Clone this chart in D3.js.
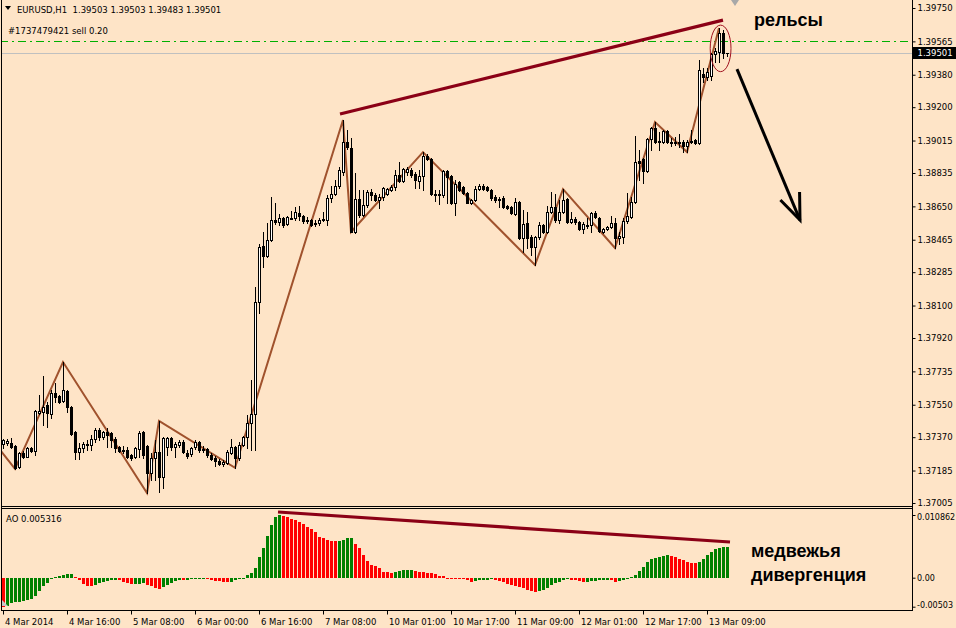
<!DOCTYPE html>
<html><head><meta charset="utf-8">
<script src="https://cdn.jsdelivr.net/npm/d3@7"></script>
<style>
html,body{margin:0;padding:0;background:#FEE4C7;}
svg{display:block;}
</style></head><body>
<svg id="c" width="956" height="628"></svg>
<script>
const symbolTitle = "EURUSD,H1";
const headerOHLC = ["1.39503","1.39503","1.39483","1.39501"];

const open = [
1.37332,1.37337,1.37337,1.37321,1.37205,1.37282,1.37260,1.37310,1.37293,1.37504,
1.37510,1.37548,1.37499,1.37615,1.37599,1.37570,1.37626,1.37537,1.37399,1.37288,
1.37310,1.37332,1.37326,1.37360,1.37410,1.37371,1.37399,1.37393,1.37360,1.37315,
1.37299,1.37299,1.37271,1.37260,1.37304,1.37399,1.37321,1.37171,1.37255,1.37288,
1.37149,1.37315,1.37366,1.37315,1.37326,1.37343,1.37282,1.37277,1.37315,1.37343,
1.37304,1.37304,1.37271,1.37255,1.37238,1.37221,1.37227,1.37282,1.37315,1.37255,
1.37326,1.37371,1.37448,1.37499,1.38119,1.38430,1.38375,1.38463,1.38574,1.38563,
1.38585,1.38552,1.38585,1.38585,1.38613,1.38596,1.38574,1.38574,1.38557,1.38557,
1.38574,1.38574,1.38696,1.38718,1.38763,1.38840,1.39007,1.38973,1.38508,1.38690,
1.38602,1.38657,1.38729,1.38712,1.38685,1.38701,1.38718,1.38740,1.38757,1.38823,
1.38790,1.38840,1.38851,1.38829,1.38790,1.38818,1.38929,1.38912,1.38718,1.38712,
1.38712,1.38845,1.38818,1.38668,1.38785,1.38757,1.38724,1.38668,1.38685,1.38746,
1.38763,1.38757,1.38740,1.38701,1.38690,1.38696,1.38652,1.38646,1.38608,1.38674,
1.38475,1.38557,1.38480,1.38424,1.38480,1.38546,1.38508,1.38619,1.38646,1.38574,
1.38619,1.38690,1.38563,1.38580,1.38563,1.38524,1.38546,1.38546,1.38613,1.38585,
1.38508,1.38524,1.38535,1.38557,1.38475,1.38480,1.38568,1.38591,1.38674,1.38901,
1.38912,1.38845,1.39023,1.39084,1.39012,1.39007,1.39068,1.39007,1.39007,1.39007,
1.39007,1.38985,1.39007,1.39018,1.39002,1.39384,1.39367,1.39373,1.39495,1.39506,
1.39611,1.39503];
const high = [
1.37360,1.37360,1.37366,1.37326,1.37288,1.37293,1.37315,1.37315,1.37521,1.37604,
1.37709,1.37565,1.37632,1.37670,1.37604,1.37787,1.37632,1.37543,1.37404,1.37337,
1.37343,1.37354,1.37382,1.37421,1.37421,1.37404,1.37421,1.37399,1.37371,1.37321,
1.37321,1.37315,1.37277,1.37315,1.37404,1.37404,1.37326,1.37282,1.37354,1.37460,
1.37371,1.37371,1.37371,1.37343,1.37354,1.37354,1.37299,1.37315,1.37354,1.37349,
1.37321,1.37310,1.37282,1.37266,1.37249,1.37243,1.37299,1.37360,1.37321,1.37343,
1.37376,1.37493,1.37687,1.38203,1.38441,1.38508,1.38557,1.38701,1.38668,1.38608,
1.38591,1.38596,1.38624,1.38646,1.38652,1.38602,1.38591,1.38580,1.38574,1.38585,
1.38619,1.38712,1.38763,1.38796,1.38868,1.39129,1.39073,1.39029,1.38834,1.38740,
1.38740,1.38740,1.38746,1.38724,1.38718,1.38757,1.38752,1.38768,1.38851,1.38896,
1.38862,1.38868,1.38862,1.38840,1.38851,1.38951,1.38940,1.38918,1.38740,1.38740,
1.38851,1.38851,1.38823,1.38796,1.38790,1.38763,1.38729,1.38690,1.38763,1.38774,
1.38774,1.38763,1.38746,1.38712,1.38701,1.38707,1.38657,1.38652,1.38696,1.38680,
1.38630,1.38619,1.38491,1.38486,1.38563,1.38552,1.38652,1.38729,1.38718,1.38685,
1.38746,1.38696,1.38619,1.38591,1.38568,1.38563,1.38585,1.38619,1.38624,1.38591,
1.38530,1.38541,1.38596,1.38585,1.38508,1.38585,1.38724,1.38701,1.39040,1.38962,
1.38918,1.39029,1.39090,1.39118,1.39062,1.39073,1.39073,1.39029,1.39035,1.39051,
1.39018,1.39018,1.39073,1.39023,1.39461,1.39417,1.39417,1.39500,1.39528,1.39639,
1.39628,1.39503];
const low = [
1.37310,1.37326,1.37310,1.37194,1.37200,1.37255,1.37260,1.37288,1.37271,1.37499,
1.37437,1.37426,1.37477,1.37565,1.37559,1.37565,1.37510,1.37382,1.37249,1.37249,
1.37288,1.37299,1.37299,1.37343,1.37354,1.37360,1.37315,1.37315,1.37288,1.37288,
1.37282,1.37255,1.37243,1.37255,1.37260,1.37255,1.37060,1.37132,1.37132,1.37066,
1.37088,1.37271,1.37299,1.37260,1.37315,1.37282,1.37255,1.37266,1.37304,1.37288,
1.37288,1.37260,1.37243,1.37210,1.37216,1.37210,1.37221,1.37277,1.37200,1.37243,
1.37321,1.37310,1.37299,1.37299,1.38058,1.38313,1.38369,1.38457,1.38552,1.38546,
1.38535,1.38546,1.38580,1.38574,1.38574,1.38557,1.38557,1.38541,1.38541,1.38546,
1.38568,1.38546,1.38674,1.38712,1.38752,1.38823,1.38968,1.38508,1.38502,1.38591,
1.38596,1.38646,1.38685,1.38680,1.38641,1.38685,1.38712,1.38735,1.38740,1.38785,
1.38785,1.38823,1.38812,1.38752,1.38752,1.38740,1.38907,1.38712,1.38680,1.38663,
1.38701,1.38668,1.38663,1.38602,1.38735,1.38718,1.38668,1.38663,1.38680,1.38740,
1.38740,1.38735,1.38685,1.38674,1.38646,1.38641,1.38635,1.38608,1.38602,1.38469,
1.38397,1.38419,1.38380,1.38325,1.38469,1.38502,1.38502,1.38613,1.38563,1.38557,
1.38613,1.38557,1.38557,1.38552,1.38519,1.38502,1.38530,1.38508,1.38585,1.38508,
1.38502,1.38519,1.38530,1.38419,1.38441,1.38447,1.38557,1.38585,1.38668,1.38796,
1.38779,1.38840,1.38962,1.39002,1.38962,1.39002,1.39002,1.38985,1.38990,1.38979,
1.38951,1.38951,1.39002,1.38996,1.38996,1.39339,1.39350,1.39350,1.39450,1.39450,
1.39472,1.39483];
const close = [
1.37354,1.37349,1.37315,1.37200,1.37282,1.37260,1.37310,1.37293,1.37515,1.37515,
1.37537,1.37504,1.37615,1.37593,1.37565,1.37632,1.37537,1.37388,1.37288,1.37310,
1.37332,1.37326,1.37360,1.37410,1.37371,1.37399,1.37382,1.37354,1.37310,1.37293,
1.37293,1.37260,1.37255,1.37310,1.37393,1.37271,1.37171,1.37255,1.37288,1.37149,
1.37366,1.37366,1.37315,1.37332,1.37343,1.37288,1.37266,1.37310,1.37343,1.37299,
1.37299,1.37271,1.37249,1.37238,1.37221,1.37232,1.37288,1.37315,1.37255,1.37326,
1.37371,1.37448,1.37499,1.38119,1.38424,1.38375,1.38463,1.38574,1.38563,1.38585,
1.38546,1.38591,1.38580,1.38619,1.38596,1.38568,1.38568,1.38546,1.38552,1.38574,
1.38580,1.38696,1.38718,1.38763,1.38851,1.39007,1.38979,1.38508,1.38690,1.38602,
1.38657,1.38729,1.38712,1.38685,1.38701,1.38752,1.38746,1.38757,1.38823,1.38790,
1.38857,1.38857,1.38823,1.38796,1.38818,1.38929,1.38912,1.38718,1.38712,1.38718,
1.38845,1.38812,1.38668,1.38774,1.38740,1.38724,1.38668,1.38685,1.38746,1.38763,
1.38746,1.38740,1.38696,1.38685,1.38685,1.38646,1.38641,1.38613,1.38674,1.38475,
1.38552,1.38475,1.38424,1.38480,1.38546,1.38508,1.38619,1.38646,1.38574,1.38619,
1.38685,1.38563,1.38580,1.38563,1.38524,1.38552,1.38541,1.38613,1.38591,1.38513,
1.38524,1.38535,1.38557,1.38475,1.38486,1.38568,1.38596,1.38674,1.38896,1.38890,
1.38845,1.39023,1.39084,1.39007,1.39007,1.39068,1.39007,1.39002,1.39002,1.39002,
1.38985,1.39007,1.39012,1.39002,1.39406,1.39367,1.39395,1.39494,1.39511,1.39611,
1.39500,1.39501];

const aoValues = [
-0.00503,-0.00490,-0.00445,-0.00430,-0.00416,-0.00400,-0.00390,-0.00370,-0.00310,-0.00230,
-0.00140,-0.00100,-0.00023,0.00012,0.00030,0.00040,0.00064,0.00066,0.00012,-0.00046,
-0.00115,-0.00144,-0.00150,-0.00127,-0.00090,-0.00075,-0.00058,-0.00046,-0.00035,-0.00046,
-0.00070,-0.00090,-0.00115,-0.00110,-0.00104,-0.00100,-0.00127,-0.00150,-0.00173,-0.00190,
-0.00167,-0.00127,-0.00090,-0.00064,-0.00040,-0.00046,-0.00035,-0.00030,-0.00023,-0.00017,
-0.00010,-0.00023,-0.00035,-0.00050,-0.00064,-0.00075,-0.00080,-0.00070,-0.00046,-0.00030,
-0.00006,0.00040,0.00075,0.00160,0.00350,0.00520,0.00720,0.00910,0.01060,0.010862,
0.01068,0.01045,0.01016,0.01000,0.00960,0.00930,0.00880,0.00840,0.00800,0.00710,
0.00680,0.00660,0.00640,0.00630,0.00640,0.00660,0.00680,0.00690,0.00580,0.00520,
0.00390,0.00290,0.00220,0.00200,0.00160,0.00100,0.00090,0.00075,0.00090,0.00115,
0.00130,0.00135,0.00140,0.00120,0.00105,0.00092,0.00088,0.00085,0.00060,0.00035,
0.00030,0.00002,-0.00010,-0.00017,-0.00020,-0.00025,-0.00040,-0.00080,-0.00060,-0.00046,
-0.00040,-0.00035,-0.00023,-0.00035,-0.00058,-0.00080,-0.00104,-0.00127,-0.00144,-0.00162,
-0.00185,-0.00208,-0.00225,-0.00242,-0.00237,-0.00220,-0.00185,-0.00133,-0.00098,-0.00070,
-0.00046,-0.00030,-0.00035,-0.00046,-0.00064,-0.00080,-0.00070,-0.00058,-0.00050,-0.00046,
-0.00040,-0.00035,-0.00046,-0.00070,-0.00064,-0.00046,-0.00020,0.00010,0.00047,0.00120,
0.00190,0.00270,0.00330,0.00340,0.00360,0.00370,0.00390,0.00380,0.00350,0.00330,
0.00300,0.00280,0.00260,0.00250,0.00270,0.00330,0.00400,0.00440,0.00490,0.00510,
0.00530,0.005316];
const aoLabel = "AO 0.005316";

const priceTicks = [1.39750,1.39565,1.39380,1.39200,1.39015,1.38835,1.38650,1.38465,1.38285,1.38100,1.37920,1.37735,1.37550,1.37370,1.37185,1.37005];
const aoTicks = [0.010862, 0, -0.00503];
const aoTickLabels = ["0.010862","0.00","-0.00503"];
const timeTickIndex = [0,16,32,48,64,80,96,112,128,144,160,176];
const timeTickLabels = ["4 Mar 2014","4 Mar 16:00","5 Mar 08:00","6 Mar 00:00","6 Mar 16:00","7 Mar 08:00","10 Mar 01:00","10 Mar 17:00","11 Mar 09:00","12 Mar 01:00","12 Mar 17:00","13 Mar 09:00"];

const zigzag = [[-5,1.37421],[3,1.37194],[15,1.37787],[36,1.37060],[39,1.37460],[58,1.37200],[85,1.39129],[87,1.38508],[105,1.38951],[133,1.38325],[140,1.38746],[153,1.38419],[163,1.39118],[171,1.38951],[179,1.39639]];
const trendPrice = [[84.25,1.39162],[180,1.39683]];
const trendAO = [[68.75,0.01138],[181.75,0.00618]];
const orderLevel = 1.39565;
const orderText = "#1737479421 sell 0.20";
const bidPrice = 1.39501;
const arrowPts = [[183.5,1.39411],[199.25,1.38574]];
const ellipseBox = {i0:176.8, i1:182, pTop:1.39655, pBot:1.39397};
const noteRails = {text:"рельсы", i:187.75, p:1.39683};
const noteDiv = [{text:"медвежья", i:187, v:0.00462},{text:"дивергенция", i:187, v:0.00047}];

// ---------- drawing ----------
const svg = d3.select("#c");
const W = 956, H = 628, axisX = 912;
const bg = "#FEE4C7";
const FONT = "'DejaVu Sans', Verdana, sans-serif";
const FS = "8.5px";

const x = d3.scaleLinear().domain([-0.75, 227.25]).range([0, 912]);
const y = d3.scaleLinear().domain([1.37005, 1.39750]).range([503, 8]);
const yAO = d3.scaleLinear().domain([-0.00503, 0.010862]).range([606.7, 515]);

svg.append("rect").attr("width",W).attr("height",H).attr("fill",bg);

const defs = svg.append("defs");
defs.append("clipPath").attr("id","clipP").append("rect").attr("x",2).attr("y",1).attr("width",axisX-2).attr("height",505);
defs.append("clipPath").attr("id","clipA").append("rect").attr("x",2).attr("y",509).attr("width",axisX-2).attr("height",101);

const gP = svg.append("g").attr("clip-path","url(#clipP)");
const gA = svg.append("g").attr("clip-path","url(#clipA)");

// bid line
const yb = Math.round(y(bidPrice)) + 0.5;
gP.append("line").attr("x1",0).attr("x2",axisX).attr("y1",yb).attr("y2",yb).attr("stroke","#C0C0C0").attr("stroke-width",1);
// order level
const yo = Math.round(y(orderLevel)) + 0.5;
gP.append("line").attr("x1",0).attr("x2",axisX).attr("y1",yo).attr("y2",yo)
  .attr("stroke","#00B000").attr("stroke-width",1.2).attr("stroke-dasharray","8,4,2,4");

// zigzag
const line = d3.line().x(d=>x(d[0])).y(d=>y(d[1]));
gP.append("path").attr("d",line(zigzag)).attr("fill","none").attr("stroke","#A0522D").attr("stroke-width",2);

// candles
const candles = gP.append("g").attr("shape-rendering","crispEdges");
d3.range(open.length).forEach(i=>{
  const cx = Math.round(x(i));
  const yh = Math.round(y(high[i])), yl = Math.round(y(low[i]));
  candles.append("rect").attr("x",cx).attr("y",yh).attr("width",1).attr("height",yl-yh+1).attr("fill","#000");
  const top = Math.round(y(Math.max(open[i],close[i])));
  const bot = Math.round(y(Math.min(open[i],close[i])));
  candles.append("rect").attr("x",cx-1).attr("y",top).attr("width",3).attr("height",bot-top+1).attr("fill","#000");
  if (close[i] > open[i] && bot-top >= 2) {
    candles.append("rect").attr("x",cx).attr("y",top+1).attr("width",1).attr("height",bot-top-1).attr("fill","#fff");
  }
});

// trendline on price
gP.append("path").attr("d",line(trendPrice)).attr("stroke","#8B0016").attr("stroke-width",3.2).attr("fill","none");

// ellipse
gP.append("ellipse")
  .attr("cx",(x(ellipseBox.i0)+x(ellipseBox.i1))/2)
  .attr("cy",(y(ellipseBox.pTop)+y(ellipseBox.pBot))/2)
  .attr("rx",(x(ellipseBox.i1)-x(ellipseBox.i0))/2)
  .attr("ry",(y(ellipseBox.pBot)-y(ellipseBox.pTop))/2)
  .attr("fill","none").attr("stroke","#A0101E").attr("stroke-width",1);

// arrow
const ax0=x(arrowPts[0][0]), ay0=y(arrowPts[0][1]), ax1=x(arrowPts[1][0]), ay1=y(arrowPts[1][1]);
gP.append("line").attr("x1",ax0).attr("y1",ay0).attr("x2",ax1).attr("y2",ay1).attr("stroke","#000").attr("stroke-width",3);
const ang = Math.atan2(ay1-ay0, ax1-ax0);
const hl = 28, spread = 0.38;
const w1 = [ax1 - hl*Math.cos(ang-spread), ay1 - hl*Math.sin(ang-spread)];
const w2 = [ax1 - hl*Math.cos(ang+spread), ay1 - hl*Math.sin(ang+spread)];
gP.append("path").attr("d",`M${w1[0]},${w1[1]}L${ax1},${ay1}L${w2[0]},${w2[1]}`).attr("fill","none").attr("stroke","#000").attr("stroke-width",3);

// AO bars
const aoG = gA.append("g").attr("shape-rendering","crispEdges");
aoValues.forEach((v,i)=>{
  const rising = i>0 && v > aoValues[i-1];
  const t = Math.round(yAO(Math.max(v,0))), b = Math.round(yAO(Math.min(v,0)));
  aoG.append("rect").attr("x",Math.round(x(i))-1).attr("y",Math.min(t,b)).attr("width",3).attr("height",Math.max(1,Math.abs(b-t)))
    .attr("fill", rising ? "#008000" : "#FF0000");
});
const lineA = d3.line().x(d=>x(d[0])).y(d=>yAO(d[1]));
gA.append("path").attr("d",lineA(trendAO)).attr("stroke","#8B0016").attr("stroke-width",3.2).attr("fill","none");

// frames
const fr = svg.append("g").attr("stroke","#000").attr("stroke-width",1).attr("shape-rendering","crispEdges");
fr.append("line").attr("x1",1.5).attr("x2",1.5).attr("y1",0).attr("y2",611);
fr.append("line").attr("x1",axisX+0.5).attr("x2",axisX+0.5).attr("y1",0).attr("y2",611);
fr.append("line").attr("x1",1).attr("x2",axisX+1).attr("y1",506.5).attr("y2",506.5);
fr.append("line").attr("x1",1).attr("x2",axisX+1).attr("y1",508.5).attr("y2",508.5);
fr.append("line").attr("x1",1).attr("x2",axisX+1).attr("y1",610.5).attr("y2",610.5);

// price axis
const pAxis = svg.append("g").attr("transform",`translate(${axisX+0.5},0)`)
  .call(d3.axisRight(y).tickValues(priceTicks).tickFormat(d3.format(".5f")).tickSize(3).tickSizeOuter(0).tickPadding(2));
pAxis.select(".domain").remove();
pAxis.selectAll("text").attr("font-family",FONT).attr("font-size",FS).attr("fill","#000");
pAxis.selectAll("line").attr("stroke","#000");

// bid label box
const bidG = svg.append("g");
bidG.append("rect").attr("x",axisX+1).attr("y",yb-6.5).attr("width",W-axisX-1).attr("height",12).attr("fill","#000");
bidG.append("text").attr("x",axisX+5.5).attr("y",yb).attr("dy","0.32em").text(d3.format(".5f")(bidPrice))
  .attr("font-family",FONT).attr("font-size",FS).attr("fill","#fff");

// AO axis
const aAxis = svg.append("g").attr("transform",`translate(${axisX+0.5},0)`)
  .call(d3.axisRight(yAO).tickValues(aoTicks).tickFormat((d,k)=>aoTickLabels[k]).tickSize(3).tickSizeOuter(0).tickPadding(1.5));
aAxis.select(".domain").remove();
aAxis.selectAll("text").attr("font-family",FONT).attr("font-size","8px").attr("fill","#000")
  .attr("dy",(d,k)=> k===0 ? "0.55em" : (k===2 ? "0.1em" : "0.32em"));

// time axis
const tAxis = svg.append("g").attr("transform","translate(0,610.5)")
  .call(d3.axisBottom(x).tickValues(timeTickIndex).tickFormat((d,k)=>timeTickLabels[k]).tickSize(4).tickSizeOuter(0).tickPadding(4));
tAxis.select(".domain").remove();
tAxis.selectAll("text").attr("text-anchor","start").attr("dx","1.5").attr("font-family",FONT).attr("font-size",FS).attr("fill","#000");

// header
svg.append("path").attr("d","M5,6L11,6L8,10Z").attr("fill","#000");
svg.append("text").attr("x",17).attr("y",12.5).attr("font-family",FONT).attr("font-size",FS).attr("fill","#000")
  .attr("xml:space","preserve").text(symbolTitle + "  " + headerOHLC.join(" "));
svg.append("text").attr("x",8).attr("y",34).attr("font-family",FONT).attr("font-size",FS).attr("fill","#000").text(orderText);
svg.append("text").attr("x",6).attr("y",522).attr("font-family",FONT).attr("font-size",FS).attr("fill","#000").text(aoLabel);

// shift markers
svg.append("path").attr("d",`M${x(183)-4},0L${x(183)+4},0L${x(183)},6Z`).attr("fill","#A8A8A8");
svg.append("path").attr("d","M2,600L2,606L8,606Z").attr("fill","#C8C8C8");

// notes
const NF = "'Liberation Sans', Arial, sans-serif";
svg.append("text").attr("x",x(noteRails.i)).attr("y",y(noteRails.p)).attr("dy","0.35em").text(noteRails.text)
  .attr("font-family",NF).attr("font-weight","bold").attr("font-size","18px").attr("fill","#000");
noteDiv.forEach(n=>{
  svg.append("text").attr("x",x(n.i)).attr("y",yAO(n.v)).attr("dy","0.35em").text(n.text)
    .attr("font-family",NF).attr("font-weight","bold").attr("font-size","18px").attr("fill","#000");
});
</script>
</body></html>
